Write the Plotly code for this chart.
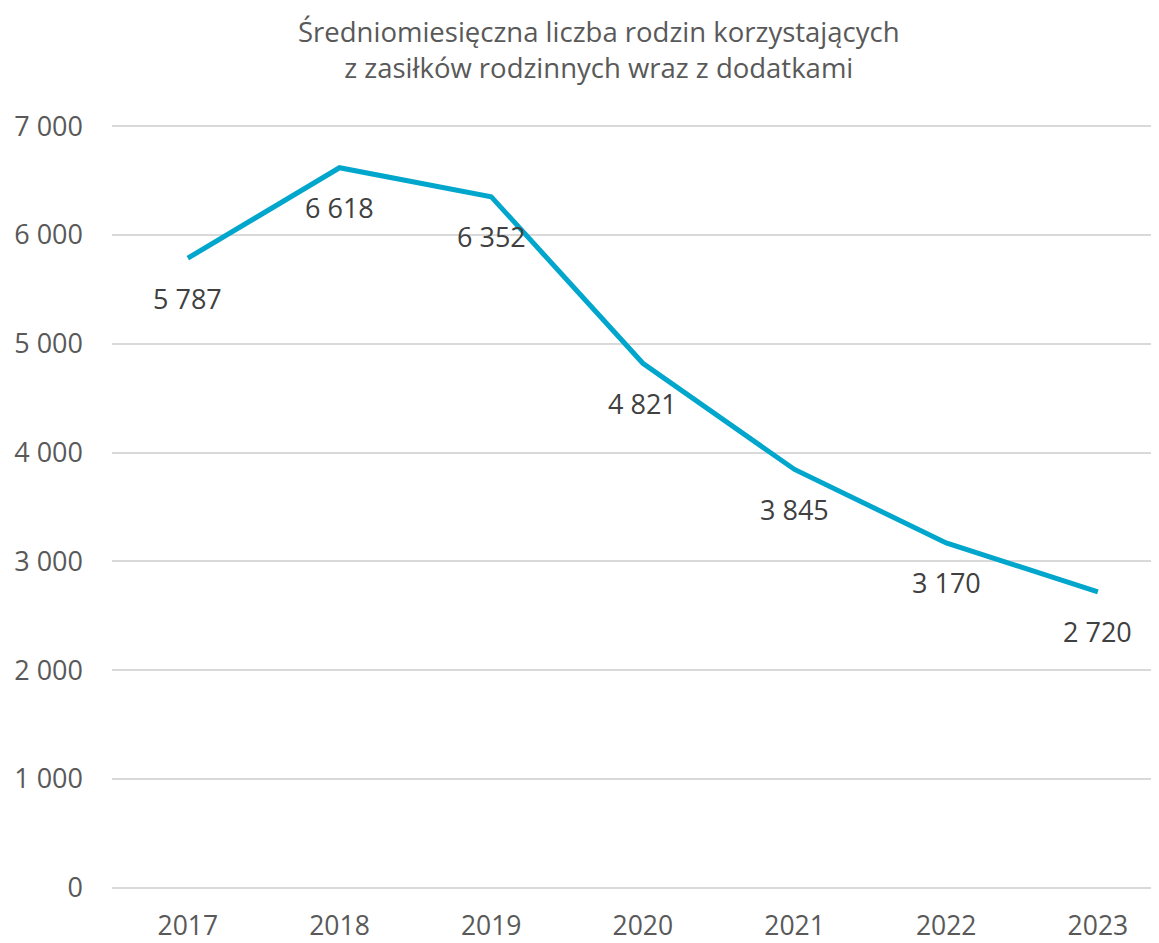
import plotly.graph_objects as go

years = ["2017", "2018", "2019", "2020", "2021", "2022", "2023"]
values = [5787, 6618, 6352, 4821, 3845, 3170, 2720]
value_labels = ["5 787", "6 618", "6 352", "4 821", "3 845", "3 170", "2 720"]
y_ticks = [0, 1000, 2000, 3000, 4000, 5000, 6000, 7000]
y_tick_labels = ["0", "1 000", "2 000", "3 000", "4 000", "5 000", "6 000", "7 000"]
title_text = "Średniomiesięczna liczba rodzin korzystających<br>z zasiłków rodzinnych wraz z dodatkami"

FONT = "Open Sans"

fig = go.Figure()
fig.add_trace(go.Scatter(
    x=list(range(len(years))), y=values, mode="lines",
    line=dict(color="#00A6CB", width=5),
    hoverinfo="skip", showlegend=False,
))

for i, (v, lab) in enumerate(zip(values, value_labels)):
    fig.add_annotation(x=i, y=v, text=lab, showarrow=False, yshift=-40,
                       font=dict(family=FONT, size=27, color="#404040"))

# title as annotation
fig.add_annotation(xref="paper", yref="paper", x=(591 - 104) / 1047, y=1,
                   yshift=75, yanchor="middle", xanchor="center",
                   text=title_text, showarrow=False,
                   font=dict(family=FONT, size=27.5, color="#595959"))

fig.update_layout(
    width=1151, height=935,
    paper_bgcolor="white", plot_bgcolor="white",
    margin=dict(l=104, r=0, t=116, b=53, autoexpand=False),
    xaxis=dict(
        tickmode="array", tickvals=list(range(len(years))), ticktext=years,
        range=[-0.5, 6.403], showgrid=False, zeroline=False, showline=False,
        ticks="", ticklabelstandoff=17, automargin=False,
        tickfont=dict(family=FONT, size=26.5, color="#595959"),
    ),
    yaxis=dict(
        tickmode="array", tickvals=y_ticks, ticktext=y_tick_labels,
        range=[-20, 7020], showgrid=True, gridcolor="#D9D9D9", gridwidth=2,
        zeroline=False, showline=False, ticks="", ticklabelstandoff=28,
        automargin=False,
        tickfont=dict(family=FONT, size=27, color="#595959"),
    ),
)

fig.write_html("out.html")
